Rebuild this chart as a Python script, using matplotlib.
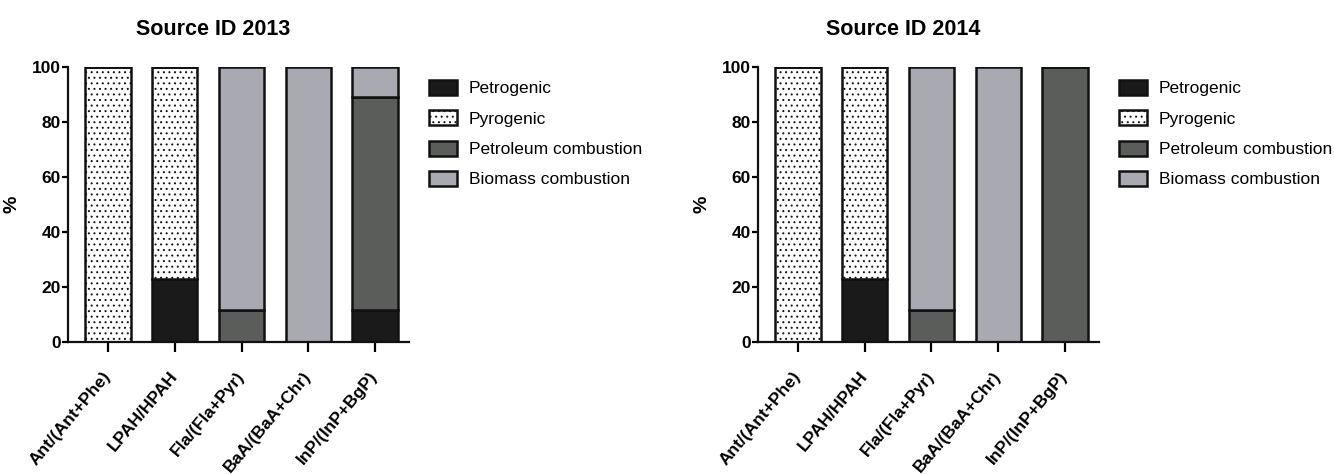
import numpy as np
import matplotlib
matplotlib.use("Agg")
import matplotlib.pyplot as plt
from matplotlib.patches import Patch

plt.rcParams['font.family'] = ['Liberation Sans', 'DejaVu Sans']
plt.rcParams['hatch.color'] = '#9a9a9a'
plt.rcParams['hatch.linewidth'] = 0.7

## diagnostic ratios and source shares (%)
ratios = ['Ant/(Ant+Phe)', 'LPAH/HPAH', 'Fla/(Fla+Pyr)', 'BaA/(BaA+Chr)', 'InP/(InP+BgP)']
sources = ['Petrogenic', 'Pyrogenic', 'Petroleum combustion', 'Biomass combustion']

petro_2013 = [0, 23, 0, 0, 11.5]
pyro_2013 = [100, 77, 0, 0, 0]
comb_2013 = [0, 0, 11.5, 0, 77.5]
bio_2013 = [0, 0, 88.5, 100, 11]

petro_2014 = [0, 23, 0, 0, 0]
pyro_2014 = [100, 77, 0, 0, 0]
comb_2014 = [0, 0, 11.5, 0, 100]
bio_2014 = [0, 0, 88.5, 100, 0]

colors = ['#1a1a1a', 'white', '#5b5d5b', '#a8a9b1']
hatches = [None, '...', None, None]


def draw(ax, title, series):
    x = np.arange(len(ratios))
    bottom = np.zeros(len(ratios))
    for vals, c, h in zip(series, colors, hatches):
        vals = np.array(vals, dtype=float)
        ax.bar(x, vals, 0.68, bottom=bottom, color=c, hatch=h,
               edgecolor='#111111', linewidth=1.8, zorder=2)
        bottom += vals
    ax.set_xlim(-0.6, 4.51)
    ax.set_ylim(0, 100)
    ax.set_yticks([0, 20, 40, 60, 80, 100])
    ax.set_xticks(x)
    ax.set_xticklabels(ratios, rotation=50, ha='right', va='center',
                       rotation_mode='anchor', fontsize=12.5, fontweight='bold')
    for t in ax.get_yticklabels():
        t.set_fontsize(12.5)
        t.set_fontweight('bold')
    for s in ['top', 'right']:
        ax.spines[s].set_visible(False)
    for s in ['left', 'bottom']:
        ax.spines[s].set_linewidth(1.6)
        ax.spines[s].set_color('#111111')
    ax.tick_params(axis='y', direction='out', length=4, width=1.6, pad=1)
    ax.tick_params(axis='x', direction='out', length=7, width=1.6, pad=16)
    ax.set_ylabel('%', fontsize=14, fontweight='bold')
    ax.yaxis.set_label_coords(-0.14, 0.5)
    ax.set_title(title, fontsize=15.5, fontweight='bold', x=0.425, pad=23)
    handles = [Patch(facecolor=c, edgecolor='#111111', hatch=h, linewidth=1.8)
               for c, h in zip(colors, hatches)]
    ax.legend(handles, sources, loc='upper left', bbox_to_anchor=(1.059, 0.952),
              frameon=False, fontsize=12.5, handlelength=1.6, handleheight=0.95,
              handletextpad=0.7, labelspacing=0.8, borderaxespad=0, borderpad=0)


fig = plt.figure(figsize=(13.34, 4.74), dpi=100)
ax1 = fig.add_axes([0.051, 0.279, 0.2556, 0.5802])
ax2 = fig.add_axes([0.5682, 0.279, 0.2556, 0.5802])

draw(ax1, 'Source ID 2013', [petro_2013, pyro_2013, comb_2013, bio_2013])
draw(ax2, 'Source ID 2014', [petro_2014, pyro_2014, comb_2014, bio_2014])

fig.savefig('out.png', dpi=100)
